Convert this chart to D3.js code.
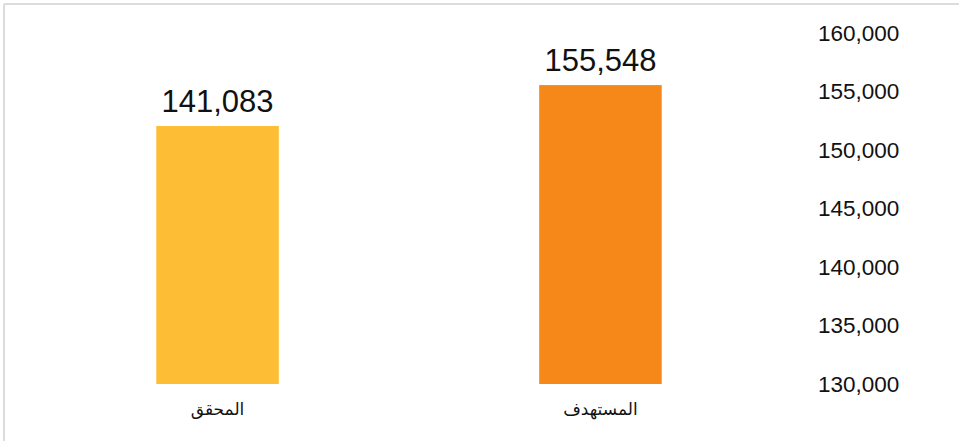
<!DOCTYPE html>
<html>
<head>
<meta charset="utf-8">
<script src="https://cdn.jsdelivr.net/npm/d3@7"></script>
<style>
  body { margin:0; background:#fff; }
  svg { display:block; font-family:"Liberation Sans", Arial, sans-serif; }
</style>
</head>
<body>
<svg></svg>
<script>

// categories, left to right as drawn
var categories = ["المحقق", "المستهدف"];
// values shown in the data labels
var labelValues = [141083, 155548];
// bar extents as they are drawn in the picture (the first bar is drawn taller than its label)
var barValues = [152050, 155548];
var colors = ["#FDBE36", "#F6881A"];
var yTicks = [130000, 135000, 140000, 145000, 150000, 155000, 160000];

var screen = { width:959, height:441 };

var svg = d3.select("svg").attr("width",screen.width).attr("height",screen.height);

// frame (top + left edge only visible)
svg.append("line").attr("x1",4).attr("x2",screen.width).attr("y1",4).attr("y2",4)
   .attr("stroke","#dcdcdc").attr("stroke-width",2);
svg.append("line").attr("x1",4).attr("x2",4).attr("y1",4).attr("y2",screen.height)
   .attr("stroke","#dcdcdc").attr("stroke-width",2);

var xScale = d3.scaleBand()
          .domain(categories)
          .range([28,790])
          .paddingInner(0.68)
          .paddingOuter(0.335);

var yScale = d3.scaleLinear()
          .domain([130000,160000])
          .range([384,33]);

var fmt = d3.format(",");

var bars = categories.map(function(c,i){
  return {cat:c, value:barValues[i], label:labelValues[i], color:colors[i]};
});

svg.selectAll("rect.bar")
  .data(bars)
  .enter()
  .append("rect")
  .attr("class","bar")
  .attr("x",function(d){return xScale(d.cat);})
  .attr("width",xScale.bandwidth())
  .attr("y",function(d){return yScale(d.value);})
  .attr("height",function(d){return yScale(130000)-yScale(d.value);})
  .attr("fill",function(d){return d.color;});

// data labels
svg.selectAll("text.val")
  .data(bars)
  .enter()
  .append("text")
  .attr("class","val")
  .attr("x",function(d){return xScale(d.cat)+xScale.bandwidth()/2;})
  .attr("y",function(d){return yScale(d.value)-14;})
  .attr("text-anchor","middle")
  .attr("font-size","31px")
  .attr("fill","#111")
  .text(function(d){return fmt(d.label);});

// category labels
svg.selectAll("text.cat")
  .data(bars)
  .enter()
  .append("text")
  .attr("class","cat")
  .attr("x",function(d){return xScale(d.cat)+xScale.bandwidth()/2;})
  .attr("y",415)
  .attr("text-anchor","middle")
  .attr("font-family","'DejaVu Sans', sans-serif")
  .attr("font-size","17px")
  .attr("fill","#111")
  .text(function(d){return d.cat;});

// y axis on the right
var yAxis = d3.axisRight(yScale)
  .tickValues(yTicks)
  .tickFormat(fmt)
  .tickSize(0)
  .tickPadding(0);

var yG = svg.append("g")
   .attr("id","yAxis")
   .attr("transform","translate(818,0)")
   .call(yAxis);

yG.select(".domain").remove();
yG.selectAll("text")
  .attr("font-family","'Liberation Sans', Arial, sans-serif")
  .attr("font-size","22.5px")
  .attr("fill","#111");

</script>
</body>
</html>
